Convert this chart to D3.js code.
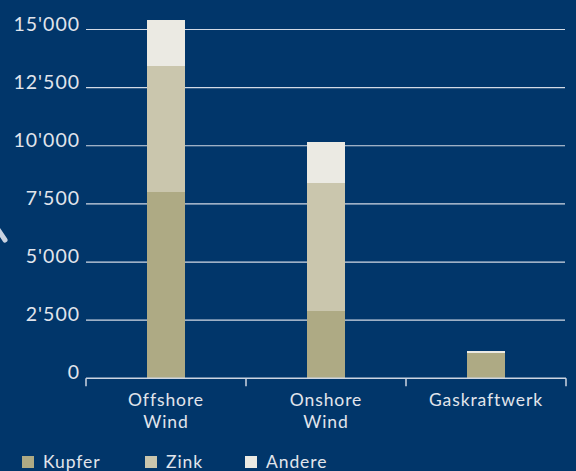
<!DOCTYPE html>
<html>
<head>
<meta charset="utf-8">
<script src="https://cdn.jsdelivr.net/npm/d3@7"></script>
<style>
  html, body { margin: 0; padding: 0; background: #01366a; }
  svg { display: block; }
  text { font-family: "Lato", "Open Sans", sans-serif; font-weight: 400; fill: #e1e5ec; }
</style>
</head>
<body>
<svg id="chart" width="576" height="471"></svg>
<script>
// Materialbedarf je Kraftwerkstyp (Tonnen), gestapelt nach Metall
const categories = ["Offshore\nWind", "Onshore\nWind", "Gaskraftwerk"];
const seriesNames = ["Kupfer", "Zink", "Andere"];
const kupfer = [8000, 2900, 1100];
const zink = [5430, 5480, 0];
const andere = [2000, 1800, 80];
const yTicks = [0, 2500, 5000, 7500, 10000, 12500, 15000];
const yTickLabels = ["0", "2'500", "5'000", "7'500", "10'000", "12'500", "15'000"];
const colors = ["#aeaa84", "#cac6ad", "#ebeae3"];

const svg = d3.select("#chart");
const W = 576, H = 471;
svg.append("rect").attr("width", W).attr("height", H).attr("fill", "#01366a");

const x = d3.scaleBand()
  .domain(categories)
  .range([86, 566])
  .paddingInner(0.7625)
  .paddingOuter(0.38125);

const y = d3.scaleLinear().domain([0, 15000]).range([378.3, 29.5]);

// Horizontal gridlines
svg.append("g").selectAll("line")
  .data(yTicks.filter(d => d > 0))
  .join("line")
  .attr("x1", 86).attr("x2", 565)
  .attr("y1", d => y(d)).attr("y2", d => y(d))
  .attr("stroke", "#d3dae5").attr("stroke-width", 1.2);

// Y tick labels
svg.append("g").selectAll("text")
  .data(yTicks)
  .join("text")
  .attr("x", 80)
  .attr("y", d => y(d) + 1)
  .attr("text-anchor", "end")
  .attr("font-size", 19.5)
  .attr("letter-spacing", 1.0)
  .text((d, i) => yTickLabels[i]);

// Stacked bars (crisp edges so adjacent segments meet without a seam)
const rows = categories.map((c, i) => ({ cat: c, Kupfer: kupfer[i], Zink: zink[i], Andere: andere[i] }));
const stack = d3.stack().keys(seriesNames)(rows);
svg.append("g").attr("shape-rendering", "crispEdges").selectAll("g")
  .data(stack)
  .join("g")
  .attr("fill", (d, i) => colors[i])
  .selectAll("rect")
  .data(d => d)
  .join("rect")
  .attr("x", d => Math.round(x(d.data.cat)))
  .attr("width", Math.round(x.bandwidth()))
  .attr("y", d => Math.round(y(d[1])))
  .attr("height", d => Math.max(0, Math.round(y(d[0])) - Math.round(y(d[1]))));

// Bottom axis with ticks at category boundaries
const axisY = y(0);
const axis = svg.append("g").attr("stroke", "#cdd5e2").attr("stroke-width", 1.5);
axis.append("line").attr("x1", 86).attr("x2", 566).attr("y1", axisY).attr("y2", axisY);
const bounds = d3.range(categories.length + 1).map(i => 86 + i * x.step());
axis.selectAll("line.tick")
  .data(bounds)
  .join("line")
  .attr("class", "tick")
  .attr("x1", d => d).attr("x2", d => d)
  .attr("y1", axisY).attr("y2", axisY + 8);

// Category labels
const labels = svg.append("g").selectAll("text")
  .data(categories)
  .join("text")
  .attr("text-anchor", "middle")
  .attr("font-size", 17.5)
  .attr("letter-spacing", 0.9)
  .attr("transform", d => `translate(${x(d) + x.bandwidth() / 2},406)`);
labels.selectAll("tspan")
  .data(d => d.split("\n"))
  .join("tspan")
  .attr("x", 0)
  .attr("dy", (d, i) => i === 0 ? 0 : 21.7)
  .text(d => d);

// Legend
const legendX = [22, 145, 245];
const legend = svg.append("g").selectAll("g")
  .data(seriesNames)
  .join("g")
  .attr("transform", (d, i) => `translate(${legendX[i]},456)`);
legend.append("rect")
  .attr("width", 12).attr("height", 12)
  .attr("fill", (d, i) => colors[i]);
legend.append("text")
  .attr("x", 21).attr("y", 11.5)
  .attr("font-size", 17.5)
  .attr("letter-spacing", 0.9)
  .text(d => d);

// Small pointer stroke at the left edge
svg.append("line")
  .attr("x1", -3).attr("y1", 228).attr("x2", 5).attr("y2", 240)
  .attr("stroke", "#c9d2e1").attr("stroke-width", 5).attr("stroke-linecap", "round");
</script>
</body>
</html>
